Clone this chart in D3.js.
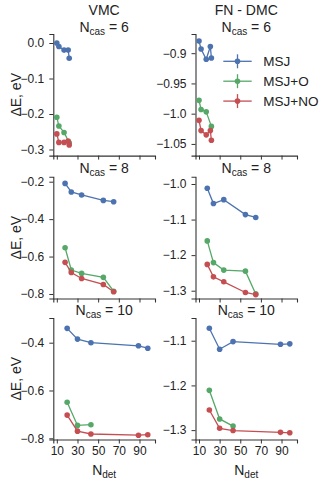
<!DOCTYPE html>
<html><head><meta charset="utf-8">
<script src="https://cdn.jsdelivr.net/npm/d3@7"></script>
<style>
body{margin:0;background:#fff;}
text{font-family:"Liberation Sans",Arial,sans-serif;fill:#222;}
</style></head>
<body><svg id="c" width="332" height="483"></svg>
<script>
// ---- data ----
const methods = ["VMC", "FN - DMC"];
const ncasList = [6, 8, 10];
const seriesNames = ["MSJ", "MSJ+O", "MSJ+NO"];
const colors = ["#4c72b0", "#55a868", "#c44e52"];

const ndet6 = [10, 12, 17, 21, 22];
const ndet6O = [10, 12, 17, 22];
const ndet8 = [18, 24, 34, 55, 65];
const ndet10 = [20, 30, 43, 89, 98];
const ndet10O = [20, 30, 43];

const vmc6_MSJ = [0.0, -0.010, -0.020, -0.020, -0.043];
const vmc6_O = [-0.209, -0.234, -0.252, -0.281];
const vmc6_NO = [-0.256, -0.280, -0.280, -0.276, -0.287];
const dmc6_MSJ = [-0.880, -0.893, -0.910, -0.889, -0.908];
const dmc6_O = [-0.978, -0.993, -0.997, -1.021];
const dmc6_NO = [-1.011, -1.028, -1.035, -1.028, -1.044];

const vmc8_MSJ = [-0.209, -0.255, -0.271, -0.300, -0.307];
const vmc8_O = [-0.553, -0.672, -0.690, -0.711, -0.785];
const vmc8_NO = [-0.631, -0.685, -0.717, -0.749, -0.788];
const dmc8_MSJ = [-1.012, -1.055, -1.044, -1.086, -1.094];
const dmc8_O = [-1.160, -1.221, -1.242, -1.245, -1.309];
const dmc8_NO = [-1.226, -1.261, -1.275, -1.305, -1.311];

const vmc10_MSJ = [-0.340, -0.385, -0.400, -0.413, -0.423];
const vmc10_O = [-0.649, -0.746, -0.743];
const vmc10_NO = [-0.703, -0.770, -0.782, -0.787, -0.785];
const dmc10_MSJ = [-1.072, -1.119, -1.102, -1.108, -1.107];
const dmc10_O = [-1.211, -1.275, -1.291];
const dmc10_NO = [-1.255, -1.296, -1.301, -1.305, -1.306];

const xTicks = [10, 30, 50, 70, 90];
const yTicks_vmc6 = [0.0, -0.1, -0.2, -0.3];
const yTicks_dmc6 = [-0.9, -0.95, -1.0, -1.05];
const yTicks_vmc8 = [-0.2, -0.4, -0.6, -0.8];
const yTicks_dmc8 = [-1.0, -1.1, -1.2, -1.3];
const yTicks_vmc10 = [-0.4, -0.6, -0.8];
const yTicks_dmc10 = [-1.1, -1.2, -1.3];
const yTickLabels_vmc6 = ["0.0", "-0.1", "-0.2", "-0.3"];
const yTickLabels_dmc6 = ["-0.9", "-0.95", "-1.0", "-1.05"];
const yTickLabels_vmc8 = ["-0.2", "-0.4", "-0.6", "-0.8"];
const yTickLabels_dmc8 = ["-1.0", "-1.1", "-1.2", "-1.3"];
const yTickLabels_vmc10 = ["-0.4", "-0.6", "-0.8"];
const yTickLabels_dmc10 = ["-1.1", "-1.2", "-1.3"];

// ---- layout ----
const colX = [[53.3, 155], [195.5, 297]];
const rowY = [[34, 155.6], [176.7, 298.5], [318, 439.5]];
const xDomain = [6.6, 105];
const yDomains = [
  [[-0.3172, 0.0254], [-1.0693, -0.8683]],
  [[-0.8241, -0.1733], [-1.3219, -0.9795]],
  [[-0.805, -0.2967], [-1.321, -1.0492]]
];

const panels = [
  [ {x:[ndet6, ndet6O, ndet6], y:[vmc6_MSJ, vmc6_O, vmc6_NO], t:yTicks_vmc6, tl:yTickLabels_vmc6},
    {x:[ndet6, ndet6O, ndet6], y:[dmc6_MSJ, dmc6_O, dmc6_NO], t:yTicks_dmc6, tl:yTickLabels_dmc6} ],
  [ {x:[ndet8, ndet8, ndet8], y:[vmc8_MSJ, vmc8_O, vmc8_NO], t:yTicks_vmc8, tl:yTickLabels_vmc8},
    {x:[ndet8, ndet8, ndet8], y:[dmc8_MSJ, dmc8_O, dmc8_NO], t:yTicks_dmc8, tl:yTickLabels_dmc8} ],
  [ {x:[ndet10, ndet10O, ndet10], y:[vmc10_MSJ, vmc10_O, vmc10_NO], t:yTicks_vmc10, tl:yTickLabels_vmc10},
    {x:[ndet10, ndet10O, ndet10], y:[dmc10_MSJ, dmc10_O, dmc10_NO], t:yTicks_dmc10, tl:yTickLabels_dmc10} ]
];

const svg = d3.select("#c");
const minus = s => s.replace("-", "\u2212");

panels.forEach((row, r) => {
  row.forEach((p, c) => {
    const x = d3.scaleLinear().domain(xDomain).range(colX[c]);
    const y = d3.scaleLinear().domain(yDomains[r][c]).range([rowY[r][1], rowY[r][0]]);
    const g = svg.append("g");

    const xa = d3.axisBottom(x).tickValues(xTicks).tickSizeOuter(0).tickSize(4).tickPadding(3)
      .tickFormat(r === 2 ? d3.format("d") : () => "");
    const gx = g.append("g").attr("transform", `translate(0,${rowY[r][1]})`).call(xa);
    const ya = d3.axisLeft(y).tickValues(p.t).tickSizeOuter(0).tickSize(4).tickPadding(5)
      .tickFormat((d, i) => minus(p.tl[i]));
    const gy = g.append("g").attr("transform", `translate(${colX[c][0]},0)`).call(ya);
    [gx, gy].forEach(a => {
      a.select(".domain").attr("stroke", "#333").attr("stroke-width", 1.1);
      a.selectAll(".tick line").attr("stroke", "#333").attr("stroke-width", 1);
      a.selectAll(".tick text").style("font-family", '"Liberation Sans",Arial,sans-serif')
        .style("font-size", "12px").attr("fill", "#222");
    });

    [0, 1, 2].forEach(s => {
      const pts = p.x[s].map((v, i) => [v, p.y[s][i]]);
      g.append("path").datum(pts)
        .attr("fill", "none").attr("stroke", colors[s]).attr("stroke-width", 1.3)
        .attr("d", d3.line().x(d => x(d[0])).y(d => y(d[1])));
      g.selectAll(null).data(pts).enter().append("circle")
        .attr("cx", d => x(d[0])).attr("cy", d => y(d[1])).attr("r", 2.8)
        .attr("fill", colors[s]);
    });

    // panel title
    const cx = (colX[c][0] + colX[c][1]) / 2;
    const baseY = [31.7, 173.3, 315][r];
    const t = svg.append("text").attr("x", cx).attr("y", baseY)
      .attr("text-anchor", "middle").style("font-size", "14px");
    t.append("tspan").text("N");
    t.append("tspan").text("cas").style("font-size", "10px").attr("dy", 3);
    t.append("tspan").text(" = " + ncasList[r]).attr("dy", -3);

    if (r === 0) {
      svg.append("text").attr("x", cx).attr("y", 15).attr("text-anchor", "middle")
        .style("font-size", "14px").text(methods[c]);
    }
    if (c === 0) {
      const cy = (rowY[r][0] + rowY[r][1]) / 2;
      svg.append("text").attr("transform", `translate(21,${cy}) rotate(-90)`)
        .attr("text-anchor", "middle").style("font-size", "14px").text("\u0394E, eV");
    }
    if (r === 2) {
      const xl = svg.append("text").attr("x", cx).attr("y", 474.5)
        .attr("text-anchor", "middle").style("font-size", "14px");
      xl.append("tspan").text("N");
      xl.append("tspan").text("det").style("font-size", "10px").attr("dy", 3);
    }
  });
});

// legend
const legY = [61.3, 81.2, 101.1];
const lg = svg.append("g");
seriesNames.forEach((n, i) => {
  const yy = legY[i];
  lg.append("line").attr("x1", 223.3).attr("x2", 251.7).attr("y1", yy).attr("y2", yy)
    .attr("stroke", colors[i]).attr("stroke-width", 1.3);
  lg.append("line").attr("x1", 237.5).attr("x2", 237.5).attr("y1", yy - 7).attr("y2", yy + 7)
    .attr("stroke", colors[i]).attr("stroke-width", 1.3);
  lg.append("circle").attr("cx", 237.5).attr("cy", yy).attr("r", 2.8).attr("fill", colors[i]);
  lg.append("text").attr("x", 263.3).attr("y", yy + 5).style("font-size", "13.5px").text(n);
});
</script></body></html>
